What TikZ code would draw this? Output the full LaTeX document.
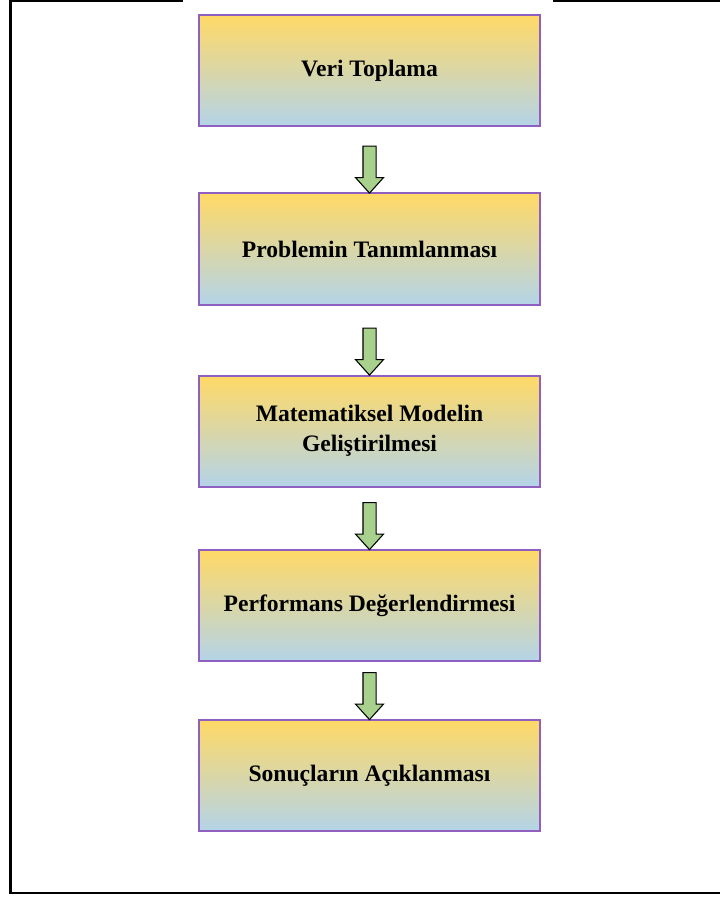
\documentclass[tikz,border=0pt]{standalone}
\usepackage{fontspec}
\setmainfont{Liberation Serif}
\usetikzlibrary{shapes.arrows,calc}

\definecolor{boxtop}{HTML}{FFD966}
\definecolor{boxbottom}{HTML}{B4D4E8}
\definecolor{boxline}{HTML}{9060C0}
\definecolor{arrowfill}{HTML}{A9D18E}

\begin{document}
\begin{tikzpicture}[x=0.75pt,y=-0.75pt]

        \useasboundingbox (0,0) rectangle (720,898);

        % frame of the page
        \draw[line width=2.2pt] (183,1) -- (10.5,1) -- (10.5,893) -- (720,893);
        \draw[line width=1.6pt] (553,1) -- (720,1);

        \begin{scope}[every node/.style={rectangle, draw=boxline, line width=1.5pt,
            top color=boxtop, bottom color=boxbottom,
            minimum width=255.75pt, minimum height=83.25pt, align=center,
            font=\bfseries\fontsize{17.7}{22.5}\selectfont}]
          \node (0)  at (369.5,70.5)  {Veri Toplama};
          \node (1)  at (369.5,249)   {Problemin Tanımlanması};
          \node (2)  at (369.5,431)   {Matematiksel Modelin\\Geliştirilmesi};
          \node (3)  at (369.5,605.5) {Performans Değerlendirmesi};
          \node (4)  at (369.5,775.5) {Sonuçların Açıklanması};
        \end{scope}

        \begin{scope}[every node/.style={single arrow, draw=black, fill=arrowfill,
            line width=0.8pt, rotate=-90, inner sep=4.5pt,
            minimum height=35.25pt, single arrow head extend=5.6pt,
            single arrow tip angle=84}]
          \node (01) at ($(1.north)+(0,-26.5)$) {};
          \node (12) at ($(2.north)+(0,-26.5)$) {};
          \node (23) at ($(3.north)+(0,-26.5)$) {};
          \node (34) at ($(4.north)+(0,-26.5)$) {};
        \end{scope}

      \end{tikzpicture}
\end{document}
